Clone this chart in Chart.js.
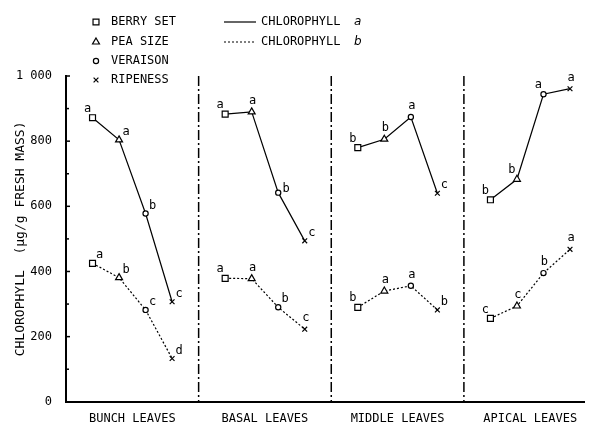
<!DOCTYPE html>
<html>
<head>
<meta charset="utf-8">
<script src="https://cdn.jsdelivr.net/npm/chart.js@4.4.1/dist/chart.umd.min.js"></script>
<style>
  html, body { margin: 0; padding: 0; background: #fff; }
  #kutu { width: 590px; height: 423px; }
</style>
</head>
<body>
<div id="kutu"><canvas id="grafik" width="590" height="423"></canvas></div>
<script>
// Yaprak grupları ve gelişme evreleri
const bolgeler = ["BUNCH LEAVES", "BASAL LEAVES", "MIDDLE LEAVES", "APICAL LEAVES"];
const evreler = ["BERRY SET", "PEA SIZE", "VERAISON", "RIPENESS"];
const evreSekil = ["rect", "triangle", "circle", "crossRot"];

// Klorofil a ve b (µg/g taze ağırlık), her satır bir yaprak grubu
const klorofilA = [
  [872, 804, 578, 307],
  [883, 890, 642, 494],
  [780, 806, 874, 640],
  [620, 683, 944, 961]
];
const klorofilB = [
  [425, 381, 282, 133],
  [379, 378, 290, 223],
  [290, 340, 356, 282],
  [256, 294, 395, 468]
];

// Önem harfleri
const harflerA = [
  ["a", "a", "b", "c"],
  ["a", "a", "b", "c"],
  ["b", "b", "a", "c"],
  ["b", "b", "a", "a"]
];
const harflerB = [
  ["a", "b", "c", "d"],
  ["a", "a", "b", "c"],
  ["b", "a", "a", "b"],
  ["c", "c", "b", "a"]
];

const yTikler = [0, 200, 400, 600, 800, 1000];

// harflerin noktaya göre yeri (ul: sol üst, u: üst, ur: sağ üst, r: sağ)
const harfYerA = [
  ["ul", "ur", "ur", "ur"],
  ["ul", "u", "r", "ur"],
  ["ul", "u", "u", "ur"],
  ["ul", "ul", "ul", "u"]
];
const harfYerB = [
  ["ur", "ur", "ur", "ur"],
  ["ul", "u", "ur", "u"],
  ["ul", "u", "u", "ur"],
  ["ul", "u", "u", "u"]
];
const harfKayma = {
  ul: [-5, -9],
  u: [1, -11],
  ur: [7, -8],
  r: [8, -4]
};

const BOLUM = 5; // her grubun x ekseninde kapladığı birim
const YAZI = "DejaVu Sans Mono";
const noktaBoyu = { rect: 4.2, triangle: 4, circle: 2.6, crossRot: 3.4 };

const veriSetleri = [];
bolgeler.forEach((b, g) => {
  [[klorofilA, harflerA, harfYerA, []], [klorofilB, harflerB, harfYerB, [2, 2]]].forEach(([kaynak, harf, yer, kesik]) => {
    veriSetleri.push({
      label: b,
      data: kaynak[g].map((v, i) => ({ x: g * BOLUM + i + 1, y: v })),
      harfler: harf[g],
      harfYer: yer[g],
      borderColor: "#000",
      borderWidth: 1.2,
      borderDash: kesik,
      pointStyle: evreSekil,
      pointRadius: evreSekil.map(s => noktaBoyu[s]),
      pointBackgroundColor: "#fff",
      pointBorderColor: "#000",
      pointBorderWidth: 1.2,
      tension: 0,
      clip: false
    });
  });
});

const ciziciEklenti = {
  id: "cizici",
  beforeDatasetsDraw(chart) {
    const ctx = chart.ctx;
    const x = chart.scales.x;
    const y = chart.scales.y;
    ctx.save();
    ctx.strokeStyle = "#000";
    // bölüm ayırıcı çizgiler
    ctx.lineWidth = 1.5;
    ctx.setLineDash([10, 3, 2, 3]);
    for (let k = 1; k < bolgeler.length; k++) {
      const px = x.getPixelForValue(k * BOLUM);
      ctx.beginPath();
      ctx.moveTo(px, y.getPixelForValue(1000));
      ctx.lineTo(px, y.bottom);
      ctx.stroke();
    }
    // içe bakan y tikleri
    ctx.setLineDash([]);
    ctx.lineWidth = 1.5;
    for (let v = 100; v <= 1000; v += 100) {
      const py = y.getPixelForValue(v);
      ctx.beginPath();
      ctx.moveTo(x.left, py);
      ctx.lineTo(x.left + (v % 200 === 0 ? 4 : 3), py);
      ctx.stroke();
    }
    ctx.restore();
  },
  afterDatasetsDraw(chart) {
    const ctx = chart.ctx;
    ctx.save();
    ctx.font = "12px " + YAZI;
    ctx.textAlign = "center";
    ctx.textBaseline = "middle";
    ctx.fillStyle = "#000";
    chart.data.datasets.forEach((ds, i) => {
      const meta = chart.getDatasetMeta(i);
      meta.data.forEach((el, j) => {
        const [dx, dy] = harfKayma[ds.harfYer[j]];
        ctx.fillText(ds.harfler[j], el.x + dx, el.y + dy);
      });
    });

    // lejant
    const satirY = [22, 42, 61, 80];
    ctx.strokeStyle = "#000";
    evreler.forEach((e, i) => {
      ctx.fillStyle = "#fff";
      Chart.helpers.drawPoint(ctx, {
        pointStyle: evreSekil[i],
        radius: noktaBoyu[evreSekil[i]],
        borderWidth: 1.2
      }, 96, satirY[i]);
      ctx.fillStyle = "#000";
      ctx.textAlign = "left";
      ctx.fillText(e, 111, satirY[i]);
    });
    ctx.lineWidth = 1.2;
    ["a", "b"].forEach((t, i) => {
      ctx.setLineDash(i === 0 ? [] : [2, 2]);
      ctx.beginPath();
      ctx.moveTo(224, satirY[i]);
      ctx.lineTo(256, satirY[i]);
      ctx.stroke();
      ctx.font = "12px " + YAZI;
      ctx.fillText("CHLOROPHYLL", 261, satirY[i]);
      ctx.font = "italic 12px 'DejaVu Sans'";
      ctx.fillText(t, 354, satirY[i]);
    });
    ctx.restore();
  }
};

new Chart(document.getElementById("grafik"), {
  type: "line",
  data: { datasets: veriSetleri },
  plugins: [ciziciEklenti],
  options: {
    responsive: false,
    devicePixelRatio: 1,
    animation: false,
    layout: { padding: { top: 76, right: 0, left: 0, bottom: 0 } },
    plugins: {
      legend: { display: false },
      tooltip: { enabled: false }
    },
    scales: {
      x: {
        type: "linear",
        min: 0,
        max: 19.55,
        grid: { display: false, drawTicks: false },
        border: { display: true, color: "#000", width: 2 },
        afterBuildTicks: s => { s.ticks = bolgeler.map((b, i) => ({ value: i * BOLUM + BOLUM / 2 })); },
        afterFit: s => { s.height = 20.3; },
        ticks: {
          padding: 10,
          maxRotation: 0,
          autoSkip: false,
          color: "#000",
          font: { family: YAZI, size: 12 },
          callback: v => bolgeler[Math.round((v - BOLUM / 2) / BOLUM)]
        }
      },
      y: {
        min: 0,
        max: 1000,
        grid: { display: false, drawTicks: false },
        border: { display: true, color: "#000", width: 2 },
        afterBuildTicks: s => { s.ticks = yTikler.map(v => ({ value: v })); },
        afterFit: s => { s.width = 66; },
        ticks: {
          padding: 14,
          color: "#000",
          font: { family: YAZI, size: 12 },
          callback: v => v === 1000 ? "1 000" : String(v)
        },
        title: {
          display: true,
          text: "CHLOROPHYLL  (µg/g FRESH MASS)",
          color: "#000",
          padding: { top: 13, bottom: 0 },
          font: { family: YAZI, size: 13 }
        }
      }
    }
  }
});
</script>
</body>
</html>
